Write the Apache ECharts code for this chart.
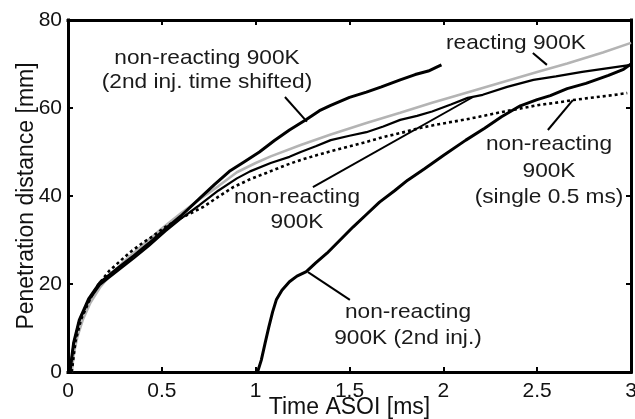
<!DOCTYPE html>
<html><head><meta charset="utf-8">
<script src="https://cdn.jsdelivr.net/npm/echarts@6/dist/echarts.min.js"></script>
<style>html,body{margin:0;padding:0;background:#fff}#c{width:635px;height:419px}</style>
</head><body><div id="c"></div>
<script>
// ---- data ----
const xTickLabels = ['0', '0.5', '1', '1.5', '2', '2.5', '3'];
const yTickLabels = ['0', '20', '40', '60', '80'];

// non-reacting 900K (2nd inj. time shifted)
const shiftedX = [0.01,0.03,0.06,0.11,0.17,0.26,0.35,0.43,0.52,0.60,0.70,0.78,0.86,0.94,1.02,1.10,1.18,1.27,1.34,1.40,1.50,1.59,1.67,1.77,1.85,1.92,1.97,1.99];
const shiftedY = [0,6.6,11.8,16.6,20.3,23.4,26.4,29.2,32.6,35.4,39.4,42.6,45.6,47.8,50.0,52.6,55.0,57.4,59.4,60.6,62.4,63.6,64.8,66.4,67.6,68.4,69.4,69.8];

// non-reacting 900K (2nd inj.)
const secondX = [1.01,1.03,1.05,1.07,1.09,1.11,1.14,1.18,1.22,1.27,1.32,1.38,1.45,1.52,1.59,1.66,1.74,1.81,1.90,2.00,2.12,2.22,2.31,2.41,2.50,2.57,2.66,2.76,2.88,2.96,3.00];
const secondY = [0,2.7,6.5,10.2,13.6,16.4,18.6,20.5,21.8,22.8,24.8,27.0,30.0,33.0,35.8,38.6,41.2,43.6,46.2,49.2,52.7,55.4,58.0,60.5,61.9,62.8,64.4,65.6,67.4,68.8,70.0];

// reacting 900K (grey)
const reactX = [0.02,0.03,0.05,0.08,0.12,0.17,0.22,0.30,0.40,0.50,0.60,0.70,0.80,0.90,1.00,1.08,1.24,1.40,1.59,1.77,1.94,2.10,2.30,2.50,2.66,2.85,3.00];
const reactY = [0,4,8,12,15.8,19.2,21.8,25.2,28.9,32.6,36,39.2,42.2,45.4,47.5,49,51.6,54,56.6,58.9,61.2,63.2,65.7,68.2,70.1,72.6,74.8];

// non-reacting 900K (thin black)
const nonReactX = [0.01,0.03,0.06,0.11,0.17,0.26,0.35,0.43,0.52,0.60,0.70,0.80,0.90,0.97,1.08,1.18,1.24,1.32,1.40,1.50,1.59,1.68,1.77,1.86,1.94,2.04,2.13,2.21,2.34,2.48,2.60,2.74,2.87,3.00];
const nonReactY = [0,6.4,11.6,16.2,19.8,22.8,25.8,28.6,32.0,34.8,37.9,41.2,44.0,45.6,47.5,48.9,50,51.3,52.7,53.7,54.5,55.8,57.3,58.2,59.2,60.8,62.3,63.0,64.8,66.4,67.2,68.2,69.0,69.8];

// non-reacting 900K (single 0.5 ms), dotted
const singleX = [0.02,0.04,0.07,0.12,0.16,0.22,0.28,0.33,0.40,0.45,0.52,0.58,0.65,0.72,0.80,0.88,0.97,1.06,1.16,1.24,1.32,1.41,1.50,1.59,1.68,1.78,1.88,1.96,2.04,2.12,2.19,2.30,2.40,2.51,2.60,2.69,2.80,2.90,2.98];
const singleY = [0,7,12,16.8,19.8,23.0,25.3,27.2,29.4,30.8,33.0,34.5,36,37.5,39.8,42,43.8,45.3,47,48.2,49.2,50.3,51.3,52.3,53.4,54.4,55.5,56.2,56.8,57.4,58,59,59.8,60.7,61.2,61.8,62.4,62.9,63.4];

// ---- annotations (layout) ----
const FONT = '"Liberation Sans", Arial, Helvetica, sans-serif';
const leaders = [
  [[1.156, 62.5], [1.273, 56.9]],
  [[2.477, 72.5], [2.552, 69.8]],
  [[2.557, 55.0], [2.690, 61.8]],
  [[1.305, 42.0], [2.158, 62.5]],
  [[1.279, 22.7], [1.502, 16.4]]
];
const notes = [
  {x: 207, y: 70, lh: 24, text: 'non-reacting 900K\n(2nd inj. time shifted)'},
  {x: 516, y: 43, lh: 24, text: 'reacting 900K'},
  {x: 549, y: 171, lh: 26.5, text: 'non-reacting\n900K\n(single 0.5 ms)'},
  {x: 297, y: 209.5, lh: 25, text: 'non-reacting\n900K'},
  {x: 408, y: 325, lh: 26, text: 'non-reacting\n900K (2nd inj.)'}
];

function pairs(xs, ys) { return xs.map((x, i) => [x, ys[i]]); }

const chart = echarts.init(document.getElementById('c'), null, {renderer: 'canvas'});

function axisLine() { return {show: true, onZero: false, lineStyle: {color: '#000', width: 3, cap: 'square'}}; }
function axisTick() { return {show: true, inside: true, length: 5, lineStyle: {color: '#000', width: 2}}; }

const series = [
  {name: 'reacting 900K', data: pairs(reactX, reactY), color: '#b4b4b4', lineStyle: {color: '#b4b4b4', width: 2.6}},
  {name: 'non-reacting 900K (single 0.5 ms)', data: pairs(singleX, singleY), color: '#000', lineStyle: {color: '#000', width: 2.6, type: [3, 3]}},
  {name: 'non-reacting 900K', data: pairs(nonReactX, nonReactY), color: '#000', lineStyle: {color: '#000', width: 2.2}},
  {name: 'non-reacting 900K (2nd inj.)', data: pairs(secondX, secondY), color: '#000', lineStyle: {color: '#000', width: 3}},
  {name: 'non-reacting 900K (2nd inj. time shifted)', data: pairs(shiftedX, shiftedY), color: '#000', lineStyle: {color: '#000', width: 3}}
].map(s => Object.assign({type: 'line', showSymbol: false, symbol: 'none', smooth: false, silent: true, animation: false, xAxisIndex: 0, yAxisIndex: 0}, s));

leaders.forEach((seg, i) => series.push({
  type: 'line', name: 'leader' + i, data: seg, showSymbol: false, symbol: 'none', silent: true, animation: false,
  lineStyle: {color: '#000', width: 2}, xAxisIndex: 0, yAxisIndex: 0
}));

chart.setOption({
  animation: false,
  backgroundColor: '#fff',
  grid: {left: 68, right: 4, top: 20, bottom: 47, containLabel: false, outerBoundsMode: 'none'},
  xAxis: [
    {type: 'value', min: 0, max: 3, interval: 0.5, position: 'bottom', axisLine: axisLine(), axisTick: axisTick(),
     splitLine: {show: false},
     axisLabel: {fontSize: 21, color: '#111', fontFamily: FONT, margin: 9, hideOverlap: false,
       formatter: v => xTickLabels[Math.round(v / 0.5)]},
     name: 'Time ASOI [ms]', nameLocation: 'middle', nameGap: 24, nameMoveOverlap: false,
     nameTextStyle: {fontSize: 23, color: '#111', fontFamily: FONT}},
    {type: 'value', min: 0, max: 3, interval: 0.5, position: 'top', axisLine: axisLine(), axisTick: axisTick(),
     splitLine: {show: false}, axisLabel: {show: false}}
  ],
  yAxis: [
    {type: 'value', min: 0, max: 80, interval: 20, position: 'left', axisLine: axisLine(), axisTick: axisTick(),
     splitLine: {show: false},
     axisLabel: {fontSize: 21, color: '#111', fontFamily: FONT, margin: 6,
       formatter: v => yTickLabels[Math.round(v / 20)]},
     name: 'Penetration distance [mm]', nameLocation: 'middle', nameGap: 30, nameMoveOverlap: false,
     nameTextStyle: {fontSize: 23, color: '#111', fontFamily: FONT}},
    {type: 'value', min: 0, max: 80, interval: 20, position: 'right', axisLine: axisLine(), axisTick: axisTick(),
     splitLine: {show: false}, axisLabel: {show: false}}
  ],
  series,
  graphic: notes.map(n => ({
    type: 'text', x: n.x, y: n.y, scaleX: 1.08, silent: true, z: 100,
    style: {text: n.text, fontSize: 21, fontFamily: FONT, fill: '#1a1a1a',
      align: 'center', verticalAlign: 'middle', lineHeight: n.lh}
  }))
});
</script>
</body></html>
